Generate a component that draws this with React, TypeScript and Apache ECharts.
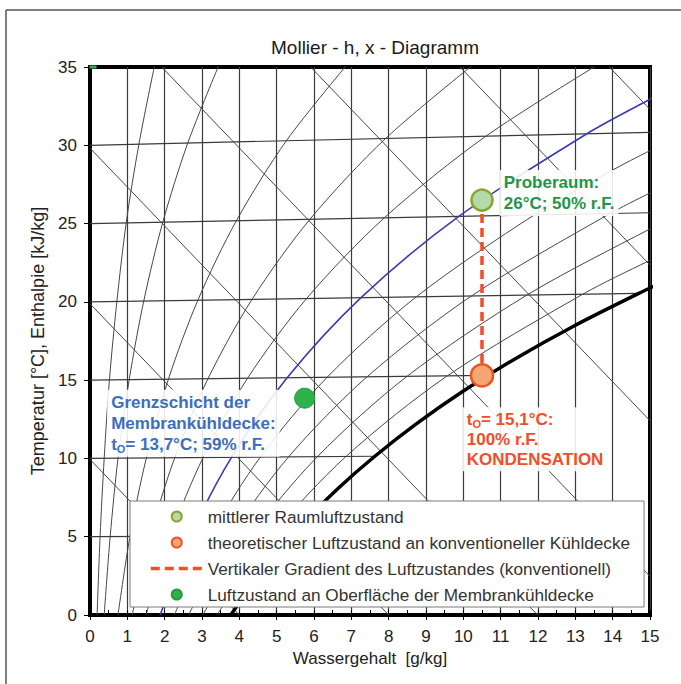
import React, { useEffect, useRef } from "react";
import * as echarts from "echarts";

// ---------- axis ranges / ticks ----------
const xRange = [0, 15];
const yRange = [0, 35];
const xTickStep = 1;
const xMinorStep = 0.5;
const yTickStep = 5;

// ---------- isotherms (t = const), end at saturation curve or right edge ----------
const isotherm5 = [[0, 5], [5.40, 5.05]];
const isotherm10 = [[0, 10], [7.63, 10.14]];
const isotherm15 = [[0, 15], [10.65, 15.3]];
const isotherm20 = [[0, 20], [14.7, 20.54]];
const isotherm25 = [[0, 25], [15, 25.69]];
const isotherm30 = [[0, 30], [15, 30.83]];

// ---------- isenthalps (h = const, 10 ... 70 kJ/kg) ----------
const enthalpy10 = [[0, 9.94], [4.0, 0]];
const enthalpy20 = [[0, 19.88], [8.0, 0]];
const enthalpy30 = [[0, 29.82], [11.99, 0]];
const enthalpy40 = [[1.92, 35], [15, 2.47]];
const enthalpy50 = [[5.91, 35], [15, 12.41]];
const enthalpy60 = [[9.91, 35], [15, 22.35]];
const enthalpy70 = [[13.91, 35], [15, 32.29]];

// ---------- relative humidity curves ----------
const rh5 = [[0.19, 0], [0.27, 5.0], [0.38, 10.01], [0.52, 15.01], [0.72, 20.03], [0.97, 25.05], [1.31, 30.07], [1.73, 35.11]];
const rh10 = [[0.38, 0], [0.54, 5.0], [0.75, 10.01], [1.05, 15.03], [1.44, 20.05], [1.95, 25.09], [2.62, 30.15], [3.47, 35.22]];
const rh20 = [[0.75, 0], [1.07, 5.01], [1.51, 10.03], [2.1, 15.06], [2.89, 20.11], [3.92, 25.18], [5.26, 30.29], [6.99, 35.45]];
const rh30 = [[1.13, 0], [1.61, 5.02], [2.27, 10.04], [3.16, 15.09], [4.34, 20.16], [5.89, 25.27], [7.92, 30.44], [10.54, 35.68]];
const rh40 = [[1.5, 0], [2.15, 5.02], [3.03, 10.06], [4.22, 15.12], [5.8, 20.21], [7.88, 25.36], [10.61, 30.59], [14.13, 35.91]];
const rh50 = [[1.88, 0], [2.69, 5.03], [3.79, 10.07], [5.28, 15.15], [7.26, 20.27], [9.88, 25.46], [13.31, 30.74], [14.96, 32.89], [15.84, 33.97]];
const rh60 = [[2.26, 0], [3.23, 5.03], [4.56, 10.08], [6.35, 15.18], [8.74, 20.32], [11.9, 25.55], [14.25, 28.74], [16.05, 30.89]];
const rh70 = [[2.64, 0], [3.77, 5.04], [5.32, 10.1], [7.42, 15.21], [10.22, 20.38], [13.93, 25.64], [15.71, 27.78]];
const rh80 = [[3.02, 0], [4.31, 5.04], [6.09, 10.11], [8.49, 15.24], [11.7, 20.43], [15.01, 24.67], [15.97, 25.74]];
const rh90 = [[3.4, 0], [4.86, 5.05], [6.86, 10.13], [9.57, 15.27], [13.2, 20.49], [14.96, 22.61], [15.92, 23.68]];
const rh100 = [[3.19, -2.0], [3.77, 0], [4.36, 2.02], [5.03, 4.04], [5.79, 6.06], [6.65, 8.1], [7.63, 10.14], [8.73, 12.19], [9.97, 14.26], [11.37, 16.34], [12.94, 18.43], [14.7, 20.54], [15.66, 21.61]];

// ---------- states ----------
const roomState = [[10.5, 26.5]];
const coolCeilingState = [[10.5, 15.3]];
const gradientLine = [[10.5, 26.5], [10.5, 15.3]];
const membraneState = [[5.75, 13.85]];
const cornerMark = [[0, 35]];

// ---------- texts ----------
const titleText = "Mollier - h, x - Diagramm";
const xName = "Wassergehalt  [g/kg]";
const yName = "Temperatur [°C], Enthalpie [kJ/kg]";
const legendNames = [
  "mittlerer Raumluftzustand",
  "theoretischer Luftzustand an konventioneller Kühldecke",
  "Vertikaler Gradient des Luftzustandes (konventionell)",
  "Luftzustand an Oberfläche der Membrankühldecke",
];
const roomLabel = ["Proberaum:", "26°C; 50% r.F."];
const coolLabel = ["t{sub|O}= 15,1°C:", "100% r.F.", "KONDENSATION"];
const membraneLabel = ["Grenzschicht der", "Membrankühldecke:", "t{sub|O}= 13,7°C; 59% r.F."];

const FONT = '"Liberation Sans", Arial, Helvetica, sans-serif';

function guide(name: string, data: number[][], color: string, width: number, smooth: number | boolean = false, z = 1) {
  return {
    name,
    type: "line",
    data,
    symbol: "none",
    silent: true,
    smooth,
    clip: true,
    z,
    lineStyle: { color, width },
    emphasis: { disabled: true },
  };
}

function subRich(color: string) {
  return {
    sub: { fontSize: 11, fontWeight: "bold", color, fontFamily: FONT, verticalAlign: "bottom" },
  };
}

export default function App() {
  const ref = useRef<HTMLDivElement>(null);

  useEffect(() => {
    if (!ref.current) return;
    const chart = echarts.init(ref.current, null, { renderer: "svg" });
    const gridColor = "#3a3a3a";
    const thin = "#474747";

    const labelBase = {
      show: true,
      fontWeight: "bold",
      fontSize: 17,
      fontFamily: FONT,
      opacity: 1,
      backgroundColor: "rgba(255,255,255,0.88)",
      padding: [2, 4],
    };

    const option: any = {
      animation: false,
      backgroundColor: "#ffffff",
      title: {
        text: titleText,
        left: 370,
        top: 33,
        textAlign: "center",
        textStyle: { fontSize: 19, fontWeight: "normal", color: "#1a1a1a", fontFamily: FONT },
      },
      grid: { left: 90, right: 31, top: 67, bottom: 69, show: true, borderColor: "#000", borderWidth: 4 },
      legend: {
        orient: "vertical",
        left: 130,
        top: 501,
        padding: [7, 14, 4, 19],
        itemGap: 9,
        itemWidth: 52,
        itemHeight: 10,
        backgroundColor: "#ffffff",
        borderColor: "#7a7a7a",
        borderWidth: 1,
        selectedMode: false,
        textStyle: { fontSize: 17.2, color: "#333", fontFamily: FONT },
        data: [
          { name: legendNames[0] },
          { name: legendNames[1] },
          { name: legendNames[2], itemStyle: { opacity: 0 }, lineStyle: { width: 3.5 } },
          { name: legendNames[3] },
        ],
      },
      xAxis: [
        {
          type: "value",
          min: xRange[0],
          max: xRange[1],
          interval: xTickStep,
          name: xName,
          nameLocation: "middle",
          nameGap: 27,
          nameTextStyle: { fontSize: 17, color: "#222", fontFamily: FONT },
          axisLine: { show: true, onZero: false, lineStyle: { color: "#000", width: 4 } },
          axisTick: { show: true, length: 5, lineStyle: { color: "#000", width: 1 } },
          axisLabel: { margin: 13, fontSize: 17, color: "#222", fontFamily: FONT },
          splitLine: { show: true, lineStyle: { color: gridColor, width: 1.2 } },
        },
        {
          type: "value",
          min: xRange[0],
          max: xRange[1],
          interval: xMinorStep,
          position: "bottom",
          axisLine: { show: false },
          axisTick: { show: true, inside: true, length: 5, lineStyle: { color: "#000", width: 1 } },
          axisLabel: { show: false },
          splitLine: { show: false },
        },
      ],
      yAxis: {
        type: "value",
        min: yRange[0],
        max: yRange[1],
        interval: yTickStep,
        name: yName,
        nameLocation: "middle",
        nameGap: 41,
        nameTextStyle: { fontSize: 18, color: "#222", fontFamily: FONT },
        axisLine: { show: true, onZero: false, lineStyle: { color: "#000", width: 4 } },
        axisTick: { show: true, length: 6, lineStyle: { color: "#000", width: 1 } },
        axisLabel: { margin: 13, fontSize: 17, color: "#222", fontFamily: FONT },
        splitLine: { show: false },
      },
      graphic: [
        { type: "line", shape: { x1: 6, y1: 10, x2: 681, y2: 10 }, style: { stroke: "#555", lineWidth: 1.5 } },
        { type: "line", shape: { x1: 6, y1: 10, x2: 6, y2: 684 }, style: { stroke: "#555", lineWidth: 1.5 } },
      ],
      series: [
        guide("t5", isotherm5, gridColor, 1.2),
        guide("t10", isotherm10, gridColor, 1.2),
        guide("t15", isotherm15, gridColor, 1.2),
        guide("t20", isotherm20, gridColor, 1.2),
        guide("t25", isotherm25, gridColor, 1.2),
        guide("t30", isotherm30, gridColor, 1.2),
        guide("h10", enthalpy10, thin, 1),
        guide("h20", enthalpy20, thin, 1),
        guide("h30", enthalpy30, thin, 1),
        guide("h40", enthalpy40, thin, 1),
        guide("h50", enthalpy50, thin, 1),
        guide("h60", enthalpy60, thin, 1),
        guide("h70", enthalpy70, thin, 1),
        guide("rh5", rh5, thin, 1, 0.3),
        guide("rh10", rh10, thin, 1, 0.3),
        guide("rh20", rh20, thin, 1, 0.3),
        guide("rh30", rh30, thin, 1, 0.3),
        guide("rh40", rh40, thin, 1, 0.3),
        guide("rh60", rh60, thin, 1, 0.3),
        guide("rh70", rh70, thin, 1, 0.3),
        guide("rh80", rh80, thin, 1, 0.3),
        guide("rh90", rh90, thin, 1, 0.3),
        guide("rh50", rh50, "#3a3ab4", 1.6, 0.3, 3),
        guide("rh100", rh100, "#000", 3.5, 0.3, 3),
        {
          name: legendNames[2],
          type: "line",
          data: gradientLine,
          symbol: "none",
          silent: true,
          z: 8,
          lineStyle: { color: "#f04e28", width: 3.5, type: [9, 5] },
          itemStyle: { color: "#f04e28" },
        },
        {
          name: legendNames[0],
          type: "scatter",
          data: roomState,
          symbolSize: 21,
          silent: true,
          z: 10,
          itemStyle: { color: "#b5d9a8", borderColor: "#8aa431", borderWidth: 2.5, opacity: 1 },
          label: {
            ...labelBase,
            position: "right",
            distance: 6,
            offset: [0, -7],
            formatter: roomLabel.join("\n"),
            color: "#1e9646",
            lineHeight: 21,
          },
        },
        {
          name: legendNames[1],
          type: "scatter",
          data: coolCeilingState,
          symbolSize: 22,
          silent: true,
          z: 10,
          itemStyle: { color: "#f5a673", borderColor: "#ea5527", borderWidth: 2.5, opacity: 1 },
          label: {
            ...labelBase,
            position: [-7, 44],
            align: "left",
            verticalAlign: "top",
            formatter: coolLabel.join("\n"),
            color: "#f04e28",
            lineHeight: 20,
            rich: subRich("#f04e28"),
          },
        },
        {
          name: legendNames[3],
          type: "scatter",
          data: membraneState,
          symbolSize: 20,
          silent: true,
          z: 10,
          itemStyle: { color: "#2eb34b", borderColor: "#249a3e", borderWidth: 1, opacity: 1 },
          label: {
            ...labelBase,
            position: [-187, 2],
            align: "left",
            verticalAlign: "top",
            formatter: membraneLabel.join("\n"),
            color: "#3c6ebe",
            lineHeight: 21,
            rich: subRich("#3c6ebe"),
          },
        },
        {
          name: "corner",
          type: "scatter",
          data: cornerMark,
          symbol: "rect",
          symbolSize: [7, 3],
          symbolOffset: [3, 0],
          silent: true,
          z: 12,
          itemStyle: { color: "#2eb34b", opacity: 1 },
        },
      ],
    };

    chart.setOption(option);
    return () => chart.dispose();
  }, []);

  return (
    <div
      ref={ref}
      style={{ position: "absolute", left: 0, top: 0, width: 681, height: 684, background: "#fff" }}
    />
  );
}
